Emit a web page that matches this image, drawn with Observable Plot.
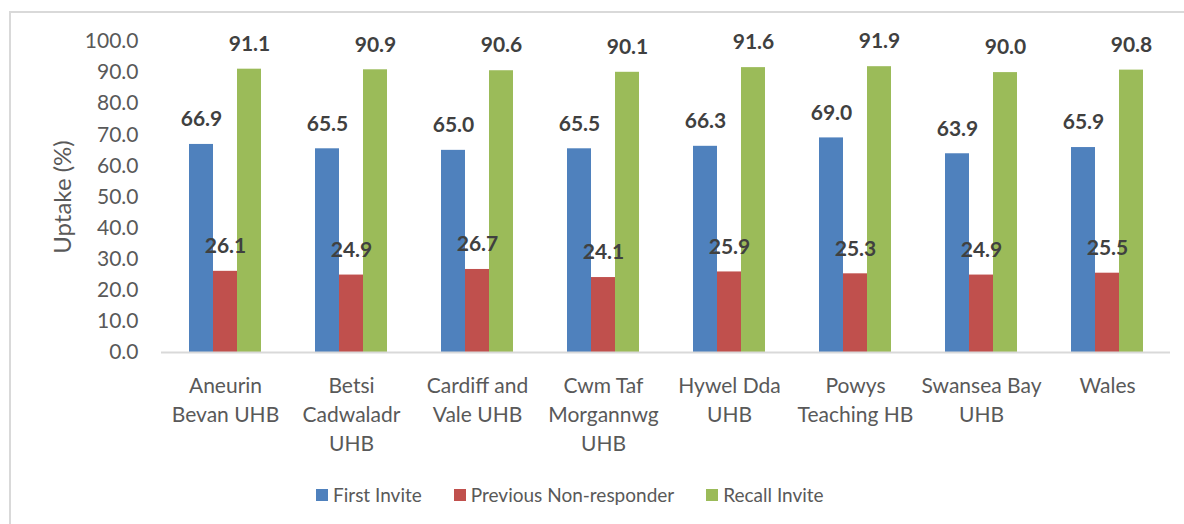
<!DOCTYPE html>
<html><head><meta charset="utf-8">
<script src="https://cdn.jsdelivr.net/npm/d3@7"></script>
<script src="https://cdn.jsdelivr.net/npm/@observablehq/plot@0.6"></script>
<style>
html,body{margin:0;padding:0;background:#fff;}
#wrap{position:relative;width:1184px;height:524px;overflow:hidden;}
#frame{position:absolute;left:9px;top:11px;width:1300px;height:700px;border-left:2px solid #d9d9d9;border-top:2px solid #d9d9d9;}
#chart{position:absolute;left:0;top:0;}
#legend{position:absolute;left:316px;top:483px;display:flex;gap:32px;font-family:Lato,sans-serif;font-size:19px;color:#595959;}
#legend span.item{display:flex;align-items:center;}
#legend span.sw{display:inline-block;width:12px;height:12px;margin-right:5px;}
</style></head>
<body>
<div id="wrap"><div id="frame"></div><div id="chart"></div><div id="legend"></div></div>
<script>
const categories = ["Aneurin\nBevan UHB","Betsi\nCadwaladr\nUHB","Cardiff and\nVale UHB","Cwm Taf\nMorgannwg\nUHB","Hywel Dda\nUHB","Powys\nTeaching HB","Swansea Bay\nUHB","Wales"];
const series = ["First Invite","Previous Non-responder","Recall Invite"];
const firstInvite = [66.9,65.5,65.0,65.5,66.3,69.0,63.9,65.9];
const previousNonResponder = [26.1,24.9,26.7,24.1,25.9,25.3,24.9,25.5];
const recallInvite = [91.1,90.9,90.6,90.1,91.6,91.9,90.0,90.8];
const colors = ["#4F81BD","#C0504D","#9BBB59"];
const yTicks = [0,10,20,30,40,50,60,70,80,90,100];

const seriesValues = [firstInvite, previousNonResponder, recallInvite];
const data = [];
categories.forEach((c,i)=>series.forEach((s,j)=>data.push({cat:c, series:s, value:seriesValues[j][i]})));

const plot = Plot.plot({
  width:1184, height:470,
  marginLeft:161, marginRight:14, marginTop:41, marginBottom:118,
  style:{fontFamily:"Lato, sans-serif", color:"#595959", background:"transparent"},
  fx:{domain:categories, paddingInner:0.43, paddingOuter:0.215, label:null},
  x:{domain:series, padding:0, axis:null},
  y:{domain:[0,100], label:null},
  color:{domain:series, range:colors},
  marks:[
    Plot.barY(data,{fx:"cat", x:"series", y:"value", fill:"series"}),
    Plot.text(data,{fx:"cat", x:"series", y:"value", text:d=>d.value.toFixed(1), dy:-25, fontWeight:"bold", fontSize:21, fill:"#404040"}),
    Plot.axisY({ticks:yTicks, tickFormat:d=>d.toFixed(1), tickSize:0, tickPadding:51, fontSize:21, label:"Uptake (%)", labelAnchor:"center", labelOffset:136, labelArrow:"none"}),
    Plot.axisFx({anchor:"bottom", tickSize:0, tickPadding:20, fontSize:21, lineHeight:1.38, label:null})
  ]
});
document.getElementById("chart").appendChild(plot);
d3.select(plot).selectAll('[aria-label="y-axis label"]').attr("font-size",24).selectAll("text").attr("font-size",24);

// baseline across all facets
const y0 = plot.scale("y").apply(0);
d3.select(plot).append("line")
  .attr("x1",161).attr("x2",1184-14).attr("y1",y0+0.5).attr("y2",y0+0.5)
  .attr("stroke","#d9d9d9").attr("stroke-width",2);

const leg = d3.select("#legend");
series.forEach((s,i)=>{
  const it = leg.append("span").attr("class","item");
  it.append("span").attr("class","sw").style("background",colors[i]);
  it.append("span").text(s);
});
</script>
</body></html>
